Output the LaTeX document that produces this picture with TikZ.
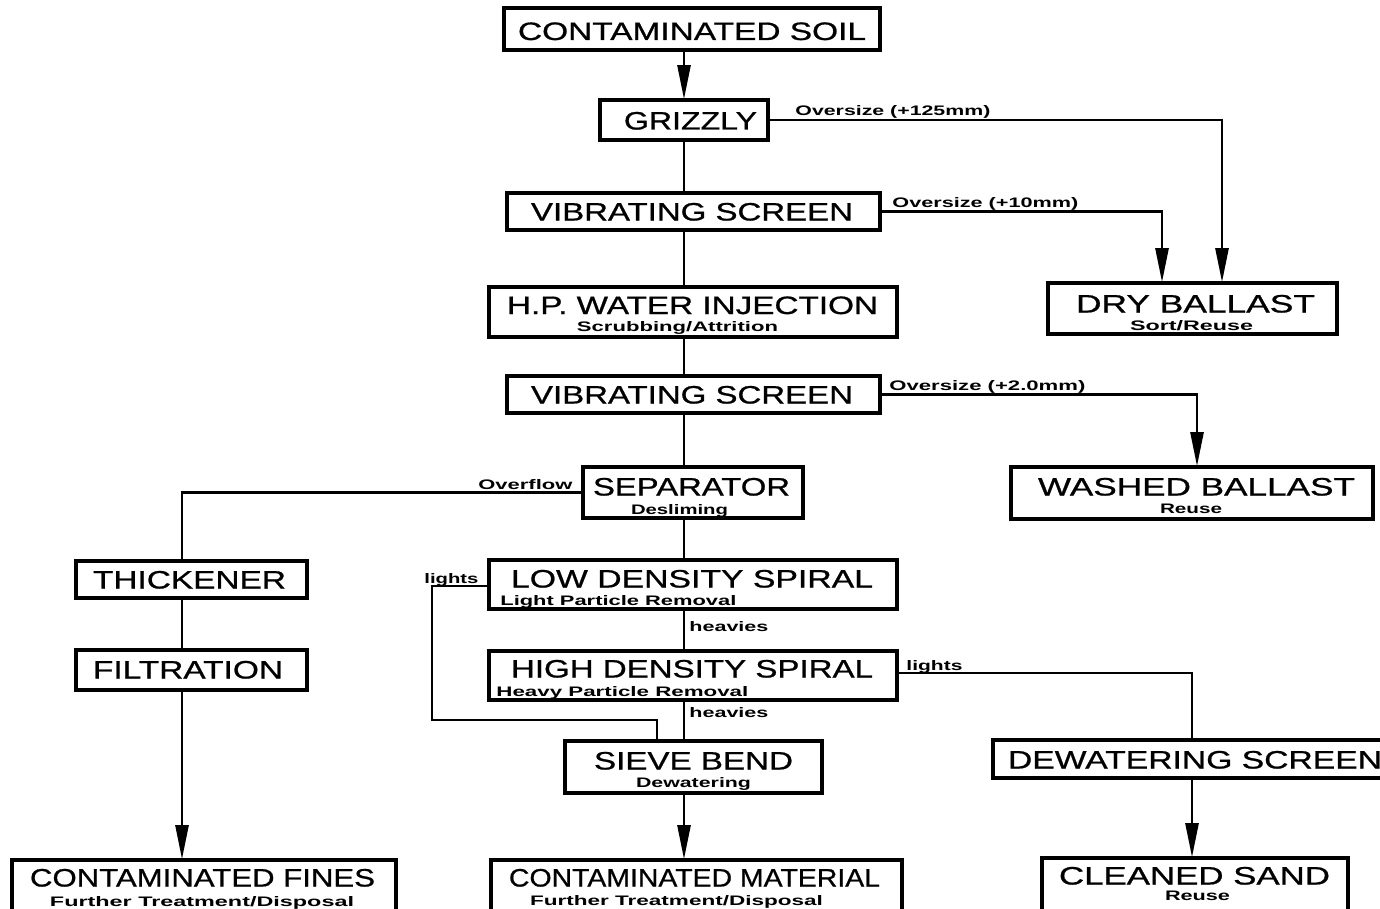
\documentclass[tikz,border=0pt]{standalone}
\usepackage{fontspec}
\usepackage{graphicx}
\setmainfont{Liberation Sans}
\newfontfamily\mainheavy{Liberation Sans}[FakeBold=0.7]
\usetikzlibrary{arrows.meta}
\newcommand{\mt}[2]{\resizebox{#1pt}{\height}{\mainheavy\fontsize{12.6}{14}\selectfont #2}}
\newcommand{\st}[2]{\resizebox{#1pt}{\height}{\fontsize{6.9}{8}\selectfont\bfseries #2}}
\tikzset{
  box/.style={draw, line width=1.8pt, inner sep=0pt},
  txt/.style={inner sep=0pt, anchor=base},
  txtw/.style={inner sep=0pt, anchor=base west},
  conn/.style={line width=1.25pt},
  arr/.style={line width=1.25pt, -{Triangle[length=17pt,width=6.5pt]}, shorten >=-0.5pt},
}
\begin{document}
\begin{tikzpicture}[x=0.5pt,y=-0.5pt]
\useasboundingbox (0,0) rectangle (1380,909);
% boxes
\node[box, minimum width=188pt, minimum height=21pt] (soil) at (692,29) {};
\node[box, minimum width=84pt, minimum height=20pt] (grizzly) at (684,120) {};
\node[box, minimum width=186.5pt, minimum height=18.5pt] (vs1) at (693.5,211.5) {};
\node[box, minimum width=204pt, minimum height=25pt] (hp) at (693,312) {};
\node[box, minimum width=144.5pt, minimum height=25.5pt] (dry) at (1192.5,308.5) {};
\node[box, minimum width=186.5pt, minimum height=18.5pt] (vs2) at (693.5,394.5) {};
\node[box, minimum width=110pt, minimum height=25.5pt] (sep) at (693,492.5) {};
\node[box, minimum width=181pt, minimum height=26pt] (washed) at (1192,493) {};
\node[box, minimum width=115.5pt, minimum height=18.5pt] (thick) at (191.5,579.5) {};
\node[box, minimum width=115.5pt, minimum height=20pt] (filt) at (191.5,670) {};
\node[box, minimum width=204pt, minimum height=24.5pt] (lds) at (693,584.5) {};
\node[box, minimum width=204pt, minimum height=24.5pt] (hds) at (693,675.5) {};
\node[box, minimum width=128.5pt, minimum height=26pt] (sieve) at (693.5,767) {};
\node[box, minimum width=201pt, minimum height=19pt] (dew) at (1194,759) {};
\node[box, minimum width=192pt, minimum height=26pt] (fines) at (204,886) {};
\node[box, minimum width=205.5pt, minimum height=26pt] (mat) at (696.5,886) {};
\node[box, minimum width=153pt, minimum height=27pt] (sand) at (1195,885) {};
% main texts
\node[txt] (tsoil) at (692,40) {\mt{174}{CONTAMINATED SOIL}};
\node[txt] (tgriz) at (690.5,129.5) {\mt{66.5}{GRIZZLY}};
\node[txt] (tvs1) at (692,220.5) {\mt{161}{VIBRATING SCREEN}};
\node[txt] (thp) at (692.5,314) {\mt{185.5}{H.P. WATER INJECTION}};
\node[txt] (tdry) at (1195.5,312.5) {\mt{119.5}{DRY BALLAST}};
\node[txt] (tvs2) at (692,403.5) {\mt{161}{VIBRATING SCREEN}};
\node[txt] (tsep) at (691.5,495.5) {\mt{98.5}{SEPARATOR}};
\node[txt] (twash) at (1196.5,495.5) {\mt{158.5}{WASHED BALLAST}};
\node[txt] (tthick) at (189.5,588.5) {\mt{96.5}{THICKENER}};
\node[txt] (tfilt) at (188,678.5) {\mt{95}{FILTRATION}};
\node[txt] (tlds) at (692,587.5) {\mt{181}{LOW DENSITY SPIRAL}};
\node[txt] (thds) at (692,677.5) {\mt{181}{HIGH DENSITY SPIRAL}};
\node[txt] (tsieve) at (693.5,769.5) {\mt{99.5}{SIEVE BEND}};
\node[txt] (tdew) at (1195,768.5) {\mt{187}{DEWATERING SCREEN}};
\node[txt] (tfines) at (202.5,886.5) {\mt{172.5}{CONTAMINATED FINES}};
\node[txt] (tmat) at (694.5,886.5) {\mt{185.5}{CONTAMINATED MATERIAL}};
\node[txt] (tsand) at (1194.5,884.5) {\mt{135.5}{CLEANED SAND}};
% subtitles
\node[txt] (shp) at (677.5,331) {\st{100.5}{Scrubbing/Attrition}};
\node[txt] (sdry) at (1191.5,330) {\st{61.5}{Sort/Reuse}};
\node[txt] (ssep) at (679.5,514) {\st{48.5}{Desliming}};
\node[txt] (swash) at (1191,513) {\st{31}{Reuse}};
\node[txtw] (slds) at (500,605) {\st{118}{Light Particle Removal}};
\node[txtw] (shds) at (496,696) {\st{126}{Heavy Particle Removal}};
\node[txt] (ssieve) at (693.5,787) {\st{57.5}{Dewatering}};
\node[txt] (sfines) at (202,906) {\st{152}{Further Treatment/Disposal}};
\node[txt] (smat) at (676.5,905) {\st{146.5}{Further Treatment/Disposal}};
\node[txt] (ssand) at (1197.5,900) {\st{32.5}{Reuse}};
% connector labels
\node[txtw] (l125) at (795,116) {\st{97.5}{Oversize (+125mm)}};
\node[txtw] (l10) at (892,207) {\st{93}{Oversize (+10mm)}};
\node[txtw] (l2) at (889,390) {\st{98}{Oversize (+2.0mm)}};
\node[txtw] (lover) at (478,489) {\st{47}{Overflow}};
\node[txtw] (llight1) at (424,583) {\st{27}{lights}};
\node[txtw] (lheavy1) at (689,631) {\st{39.5}{heavies}};
\node[txtw] (llight2) at (906,670) {\st{28}{lights}};
\node[txtw] (lheavy2) at (689,717) {\st{39.5}{heavies}};
% helper coordinates
\coordinate (mx) at (684,0);
\coordinate (x1222) at (1222,0);
\coordinate (x1162) at (1162,0);
\coordinate (x1197) at (1197,0);
\coordinate (x182) at (182,0);
\coordinate (x657) at (657,0);
\coordinate (x1192) at (1192,0);
\coordinate (y586) at (0,586);
\coordinate (y673) at (0,673);
\coordinate (l1) at (432,720);
% main column
\draw[arr] (soil.south -| mx) -- (grizzly.north -| mx);
\draw[conn] (grizzly.south -| mx) -- (vs1.north -| mx);
\draw[conn] (vs1.south -| mx) -- (hp.north -| mx);
\draw[conn] (hp.south -| mx) -- (vs2.north -| mx);
\draw[conn] (vs2.south -| mx) -- (sep.north -| mx);
\draw[conn] (sep.south -| mx) -- (lds.north -| mx);
\draw[conn] (lds.south -| mx) -- (hds.north -| mx);
\draw[conn] (hds.south -| mx) -- (sieve.north -| mx);
\draw[arr] (sieve.south -| mx) -- (mat.north -| mx);
% oversize branches
\draw[arr] (grizzly.east) -| (dry.north -| x1222);
\draw[arr] (vs1.east) -| (dry.north -| x1162);
\draw[arr] (vs2.east) -| (washed.north -| x1197);
% overflow branch
\draw[conn] (sep.west) -| (thick.north -| x182);
\draw[conn] (thick.south -| x182) -- (filt.north -| x182);
\draw[arr] (filt.south -| x182) -- (fines.north -| x182);
% lights from low density spiral
\draw[conn] (lds.west |- y586) -| (l1) -| (sieve.north -| x657);
% lights from high density spiral
\draw[conn] (hds.east |- y673) -| (dew.north -| x1192);
\draw[arr] (dew.south -| x1192) -- (sand.north -| x1192);
\end{tikzpicture}
\end{document}
